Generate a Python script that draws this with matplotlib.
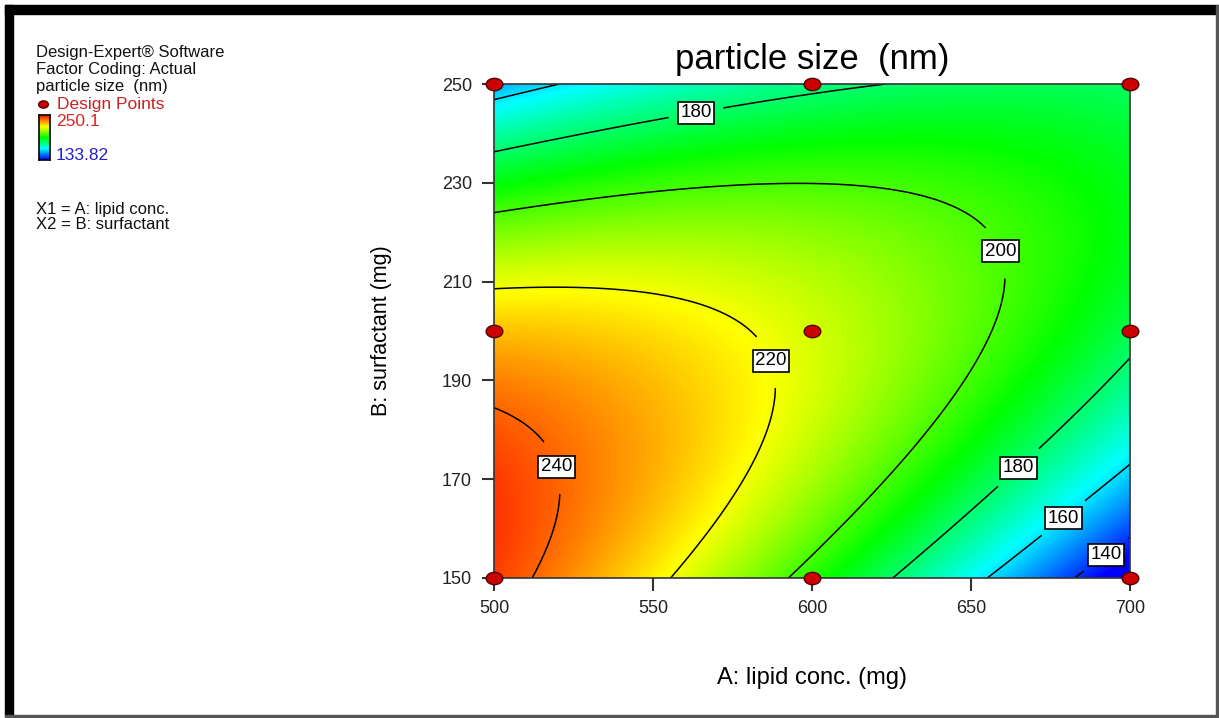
import numpy as np
import matplotlib.pyplot as plt
from matplotlib.colors import LinearSegmentedColormap, Normalize
from matplotlib.patches import Rectangle
from matplotlib.path import Path
from matplotlib.transforms import Affine2D

plt.rcParams['font.family'] = ['Liberation Sans', 'DejaVu Sans']

# design levels (actual units) and measured particle size at each design point
lipid_levels = [500, 600, 700]          # A: lipid conc. (mg)
surfactant_levels = [150, 200, 250]     # B: surfactant (mg)
# rows follow surfactant_levels, columns follow lipid_levels
particle_size = [[247, 192, 128],
                 [227, 218, 183],
                 [153, 179, 180]]

contour_levels = [140, 160, 180, 200, 220, 240]
range_low, range_high = 133.82, 250.1
x_ticks = [500, 550, 600, 650, 700]
y_ticks = [150, 170, 190, 210, 230, 250]

# where the contour labels sit (A, B)
label_spots = [(563, 246), (667, 218), (596, 196), (522, 173),
               (664, 173), (678, 163), (691, 156)]

# quadratic response surface fitted in coded units
A_pts, B_pts = np.meshgrid(lipid_levels, surfactant_levels)
resp = np.array(particle_size, dtype=float).ravel()
a_mid, a_half = 600, 100
b_mid, b_half = 200, 50

def terms(a, b):
    x = (np.asarray(a) - a_mid) / a_half
    y = (np.asarray(b) - b_mid) / b_half
    return np.stack([np.ones_like(x), x, y, x * y, x ** 2, y ** 2], axis=-1)

coef, *_ = np.linalg.lstsq(terms(A_pts.ravel(), B_pts.ravel()), resp, rcond=None)

ga = np.linspace(500, 700, 401)
gb = np.linspace(150, 250, 401)
GA, GB = np.meshgrid(ga, gb)
Z = terms(GA, GB) @ coef

cmap = LinearSegmentedColormap.from_list(
    'de', ['#0000ff', '#00ffff', '#00ff00', '#ffff00', '#ff1500'])
norm = Normalize(range_low, range_high)

# slightly wide dot, like the software's design point symbol
dot = Path.unit_circle().transformed(Affine2D().scale(1.35, 1.0))

fig = plt.figure(figsize=(12.19, 7.18), dpi=100)
ax = fig.add_axes([0.4053, 0.195, 0.5217, 0.688])

ax.pcolormesh(GA, GB, Z, cmap=cmap, norm=norm, shading='auto', rasterized=True)
cs = ax.contour(GA, GB, Z, levels=contour_levels, colors='black', linewidths=1.1)
labels = ax.clabel(cs, fmt='%d', fontsize=13.5, inline=True, inline_spacing=12,
                   manual=label_spots)
for t in labels:
    t.set_rotation(0)
    t.set_bbox(dict(facecolor='white', edgecolor='black', linewidth=1.2, pad=1.8))

ax.plot(A_pts.ravel(), B_pts.ravel(), marker=dot, ls='none', ms=12, mfc='#cc0000',
        mec='#550000', mew=1, clip_on=False, zorder=5)

ax.set_xlim(500, 700)
ax.set_ylim(150, 250)
ax.set_xticks(x_ticks)
ax.set_yticks(y_ticks)
ax.tick_params(direction='out', length=9, width=1.5, colors='#333333',
               labelsize=13, labelcolor='#222222', pad=7)
for s in ax.spines.values():
    s.set_color('#333333')
    s.set_linewidth(1.2)

ax.set_title('particle size  (nm)', fontsize=25, pad=11)
ax.set_xlabel('A: lipid conc. (mg)', fontsize=17, labelpad=36)
ax.set_ylabel('B: surfactant (mg)', fontsize=15.5, labelpad=36)

# legend block in the upper left
W, H = 1219, 718
def fx(px):
    return px / W
def fy(py):
    return 1 - py / H

info = ['Design-Expert® Software', 'Factor Coding: Actual', 'particle size  (nm)']
for i, line in enumerate(info):
    fig.text(fx(36), fy(52 + 17.3 * i), line, fontsize=12, va='center', color='#111111')
fig.lines.append(plt.Line2D([fx(43)], [fy(104)], marker=dot, ms=7, ls='none',
                            mfc='#cc0000', mec='#550000', transform=fig.transFigure))
fig.text(fx(57), fy(104), 'Design Points', fontsize=12.5, va='center', color='#cc2222')

cax = fig.add_axes([fx(39), fy(160), fx(11), fy(115) - fy(160)])
cax.imshow(np.linspace(1, 0, 60)[:, None], aspect='auto', cmap=cmap)
cax.set_xticks([])
cax.set_yticks([])
for s in cax.spines.values():
    s.set_linewidth(1.2)
fig.text(fx(56), fy(122), f'{range_high}', fontsize=12.5, va='center', color='#dd2222')
fig.text(fx(56), fy(156), f'{range_low}', fontsize=12.5, va='center', color='#2222cc')
fig.text(fx(36), fy(209), 'X1 = A: lipid conc.', fontsize=12, va='center', color='#111111')
fig.text(fx(36), fy(225), 'X2 = B: surfactant', fontsize=12, va='center', color='#111111')

# page frame: heavy top/left edges, thin right/bottom edges
fig.patches.append(Rectangle((fx(5), fy(14)), fx(1213), fy(5) - fy(14),
                             transform=fig.transFigure, color='black'))
fig.patches.append(Rectangle((fx(5), fy(716)), fx(8), fy(5) - fy(716),
                             transform=fig.transFigure, color='black'))
fig.patches.append(Rectangle((fx(1216), fy(716)), fx(2), fy(5) - fy(716),
                             transform=fig.transFigure, color='#555555'))
fig.patches.append(Rectangle((fx(5), fy(717)), fx(1213), fy(715) - fy(717),
                             transform=fig.transFigure, color='#555555'))

fig.savefig('out.png', dpi=100)
